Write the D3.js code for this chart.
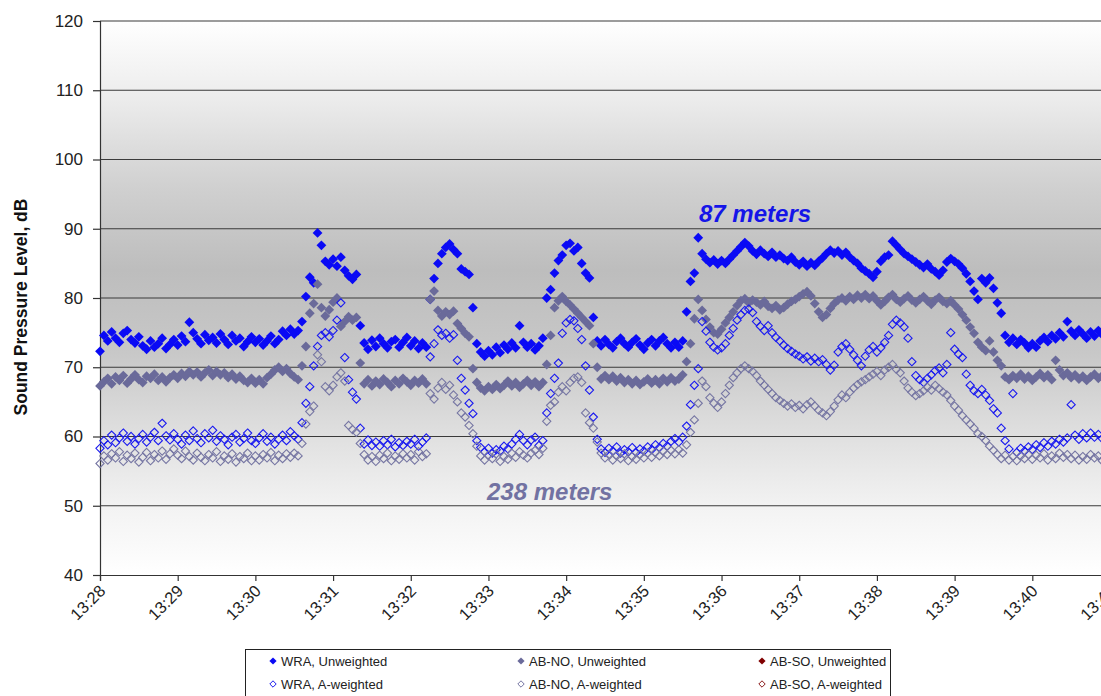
<!DOCTYPE html>
<html>
<head>
<meta charset="utf-8">
<script src="https://cdn.jsdelivr.net/npm/d3@7"></script>
<style>
  html, body { margin: 0; padding: 0; background: #fff; }
  svg { display: block; font-family: Arial, "Liberation Sans", sans-serif; }
</style>
</head>
<body>
<svg id="chart" width="1101" height="696"></svg>
<script>
// Sound pressure level samples, one every 3 seconds starting at 13:28:00
const sampleStepSec = 3;

const wraUnweighted = [
  72.3,74.6,73.8,75.1,74.2,73.6,74.9,75.3,74.0,73.5,74.4,73.1,72.6,73.8,72.9,73.4,74.2,72.7,73.3,74.0,
  73.2,74.5,73.7,76.5,75.0,74.1,73.4,74.7,73.9,74.3,73.5,74.8,74.0,73.3,74.6,73.8,74.2,73.0,73.7,74.4,
  73.6,74.1,73.2,73.8,74.5,73.4,74.0,75.2,74.6,75.5,74.8,75.3,76.6,80.2,83.0,82.2,89.4,87.6,85.3,84.8,
  85.6,84.6,85.9,84.0,83.2,82.7,83.4,76.0,73.5,72.6,73.9,73.0,74.2,73.4,72.8,73.7,74.0,72.9,73.6,74.3,
  73.1,73.8,72.7,73.5,72.9,79.8,82.8,85.0,86.4,87.3,87.8,87.0,86.4,84.2,83.8,83.4,78.6,73.4,72.2,71.6,
  72.4,71.8,72.9,72.1,73.2,72.6,73.5,72.8,76.0,73.6,72.9,73.4,72.5,73.1,74.2,80.0,81.2,83.6,85.4,86.2,
  87.6,87.9,86.8,87.3,85.0,83.6,82.9,77.2,73.8,73.1,74.0,73.3,72.8,73.7,74.2,73.4,72.9,73.6,74.1,73.2,
  72.6,73.5,74.0,73.1,73.8,74.3,73.4,72.8,73.6,72.9,73.8,78.0,82.4,83.6,88.7,86.4,85.6,85.1,85.5,84.9,
  85.4,85.0,85.6,86.2,86.8,87.4,88.0,87.5,86.8,86.3,86.9,86.4,86.0,86.6,85.9,86.2,85.7,85.4,85.9,85.2,
  84.8,85.3,84.6,85.1,84.7,85.3,85.8,86.4,86.9,86.5,86.8,86.2,86.6,85.9,85.4,85.0,84.3,83.9,83.5,83.0,
  83.8,85.3,85.9,86.2,88.2,87.6,87.0,86.4,86.0,85.6,85.2,84.8,84.4,84.9,84.2,83.8,83.3,84.0,85.2,85.7,
  85.3,84.9,84.3,83.5,82.4,81.0,79.8,82.8,82.2,82.9,81.4,79.3,77.8,74.6,73.6,74.2,73.3,74.0,73.5,72.8,
  73.4,72.9,73.8,74.3,73.7,74.6,74.1,75.0,74.4,76.6,75.2,74.6,75.4,74.8,74.2,75.1,74.5,75.3,74.7,75.0,
  74.6
];

const abnoUnweighted = [
  67.3,67.9,68.4,67.6,68.6,68.1,68.8,67.7,68.3,68.9,68.2,67.8,68.7,68.4,69.0,68.1,68.6,67.9,68.5,68.9,
  68.4,69.1,68.7,69.4,68.9,69.3,68.6,69.2,69.6,68.8,69.4,68.9,69.2,68.5,69.0,68.3,68.7,68.1,67.8,68.4,
  67.7,68.2,67.6,68.5,69.0,69.6,70.0,69.4,69.8,69.1,68.6,68.2,70.2,73.0,77.8,79.2,82.0,78.6,77.4,78.3,
  79.4,80.0,75.9,76.6,77.3,76.8,77.2,70.6,67.6,68.2,67.3,68.0,67.5,68.3,67.8,67.2,68.1,67.6,68.4,67.9,
  67.4,68.1,67.7,68.3,67.6,79.8,81.0,78.2,77.4,78.0,77.6,78.1,76.3,75.6,74.9,74.4,69.8,67.8,67.0,66.6,
  67.2,66.8,67.5,66.9,67.4,68.0,67.3,67.8,67.1,67.6,68.1,67.4,67.9,67.2,67.8,70.4,74.6,78.6,79.6,80.2,
  79.5,79.0,78.4,77.8,77.2,76.6,76.0,73.4,70.0,68.3,68.8,68.2,68.7,68.0,68.5,67.8,68.2,67.6,68.1,67.5,
  67.9,68.3,67.7,68.2,67.6,68.4,67.9,68.5,68.0,68.3,68.9,70.8,73.4,77.0,79.8,78.2,76.9,75.8,75.0,74.8,
  75.5,76.4,77.2,78.0,78.9,79.6,79.9,79.3,79.7,79.4,79.0,79.5,78.8,78.5,78.9,78.3,78.6,79.1,79.5,79.8,
  80.2,80.6,80.9,80.3,79.2,78.0,77.2,77.6,78.5,79.2,79.7,80.0,79.6,80.2,79.8,80.4,80.0,80.5,79.9,80.3,
  79.6,79.0,79.5,80.1,80.5,79.8,79.4,79.9,80.3,79.7,79.3,79.8,80.2,79.6,79.1,79.7,80.1,79.5,79.2,79.6,
  79.0,78.4,77.6,76.8,75.8,74.9,73.6,72.9,72.4,73.8,72.2,71.0,70.2,68.6,68.2,68.8,68.4,69.0,68.3,68.7,
  68.1,68.6,69.1,68.5,68.9,68.2,71.0,69.6,68.8,69.2,68.5,68.9,68.3,68.7,68.1,68.6,69.0,68.4,68.8,68.2,
  68.6
];

const absoUnweighted = [];

const wraAWeighted = [
  58.3,59.4,58.8,60.2,59.1,59.8,60.5,59.3,60.0,58.9,59.7,60.3,59.2,59.9,60.6,59.4,61.9,60.1,59.5,60.4,
  59.6,58.9,60.2,59.4,60.8,59.7,59.1,60.4,59.8,60.9,59.3,60.1,59.6,58.8,59.9,60.3,59.2,59.7,60.5,59.4,
  59.0,59.8,60.4,59.3,59.9,58.9,59.6,60.2,59.4,60.7,60.1,59.6,62.0,64.8,67.2,70.2,73.0,74.6,75.0,74.4,
  75.3,76.8,79.3,71.4,68.2,66.4,65.4,61.2,58.9,59.5,58.7,59.2,58.6,59.4,58.8,59.6,58.5,59.1,58.7,59.3,
  58.9,59.6,58.6,59.2,59.8,71.5,73.4,75.4,74.6,74.9,74.2,74.7,71.0,68.4,66.7,64.8,63.3,59.4,58.4,57.8,
  58.3,57.6,58.1,57.9,58.6,58.2,58.9,59.6,60.3,59.4,58.8,59.5,59.9,58.7,59.4,63.4,66.2,68.4,70.6,74.9,
  76.4,76.9,76.7,75.6,74.0,70.2,66.7,62.8,59.6,58.2,57.7,58.3,57.9,58.5,57.6,58.1,57.8,58.4,57.7,58.2,
  57.9,58.5,58.1,58.8,58.4,59.0,58.6,59.3,59.7,59.2,59.9,61.5,64.6,67.4,69.8,76.6,75.2,73.6,72.9,72.5,
  72.8,73.4,74.6,75.6,76.8,77.6,78.2,78.4,77.9,76.6,75.9,75.3,76.0,75.0,74.3,73.8,73.2,72.7,72.3,71.9,
  71.6,71.2,71.5,70.9,71.3,70.8,71.1,70.4,69.6,70.3,72.2,73.0,73.4,72.6,71.8,71.0,70.2,71.6,72.5,73.0,
  72.2,72.8,73.6,74.6,76.2,76.8,76.4,75.8,74.2,70.8,68.8,68.2,67.8,68.4,68.9,69.5,69.9,69.2,70.4,75.0,
  72.6,71.9,71.4,69.0,67.4,66.6,66.2,66.8,66.0,65.2,64.0,63.4,61.2,59.4,58.2,66.2,57.7,58.3,57.9,58.5,
  58.1,58.8,58.4,59.1,58.6,59.3,58.9,59.6,59.2,59.8,64.6,60.2,59.6,60.4,59.8,60.5,59.9,60.3,59.7,60.4,
  59.9
];

const abnoAWeighted = [
  56.1,57.2,56.6,57.5,56.9,57.8,56.4,57.3,56.8,57.6,56.3,57.0,57.7,56.5,57.4,56.9,57.9,56.7,57.5,58.2,
  57.3,56.8,57.9,57.1,56.6,57.6,57.0,56.5,57.4,56.9,57.8,56.4,57.2,56.7,57.5,56.3,57.1,56.8,57.6,56.5,
  57.2,56.6,57.4,56.9,57.7,56.5,57.3,56.8,57.5,57.0,57.6,57.2,59.0,61.8,63.6,64.4,71.8,70.8,67.2,66.6,
  67.4,68.6,69.2,68.0,61.6,61.0,60.6,59.0,57.4,56.6,57.1,56.4,57.3,56.8,57.6,56.5,57.2,56.7,57.5,56.9,
  57.4,56.6,57.8,57.1,57.5,66.2,65.4,67.0,67.8,66.8,67.4,66.0,65.0,63.4,62.8,61.6,60.4,58.6,57.2,56.6,
  57.3,56.8,57.5,56.4,57.1,56.7,57.6,57.0,57.8,57.3,56.9,57.6,58.0,57.4,58.3,62.2,64.5,65.0,66.4,67.2,
  66.6,67.8,68.4,68.6,67.8,63.4,62.0,61.2,59.2,57.6,56.9,57.4,56.6,57.2,56.8,57.5,56.5,57.1,56.7,57.4,
  56.9,57.6,57.0,57.7,57.2,57.9,57.4,58.0,57.5,58.1,57.6,58.8,60.6,62.4,64.8,68.0,67.2,65.6,64.8,64.2,
  65.0,66.2,67.4,68.5,69.2,69.8,70.2,69.8,69.4,68.8,68.0,67.4,66.8,66.2,65.6,65.2,64.8,64.4,64.7,64.2,
  64.5,64.0,64.6,65.0,64.4,63.8,63.4,63.0,63.6,64.4,65.3,66.0,65.6,66.4,67.0,67.5,67.9,68.2,68.6,69.0,
  69.4,68.8,69.6,70.0,70.4,69.7,69.2,68.0,67.0,66.4,65.9,66.2,66.6,67.1,66.7,67.4,66.9,66.4,66.0,65.2,
  64.4,63.8,63.0,62.4,61.8,61.2,60.4,60.0,59.4,58.6,58.0,57.4,56.8,57.3,56.6,57.1,56.5,57.2,56.8,57.4,
  56.7,57.3,56.9,57.5,56.6,57.2,56.8,57.6,57.0,57.4,56.8,57.3,56.6,57.1,56.7,57.4,56.9,57.2,56.5,57.0,
  57.1
];

const absoAWeighted = [];

const yTickValues = [40, 50, 60, 70, 80, 90, 100, 110, 120];
const xTickLabels = ["13:28","13:29","13:30","13:31","13:32","13:33","13:34",
                     "13:35","13:36","13:37","13:38","13:39","13:40","13:41"];

const seriesList = [
  { name: "WRA, Unweighted",   values: wraUnweighted,  color: "#0a0af5", filled: true  },
  { name: "AB-NO, Unweighted", values: abnoUnweighted, color: "#6a6a9a", filled: true  },
  { name: "AB-SO, Unweighted", values: absoUnweighted, color: "#800000", filled: true  },
  { name: "WRA, A-weighted",   values: wraAWeighted,   color: "#1a1af0", filled: false },
  { name: "AB-NO, A-weighted", values: abnoAWeighted,  color: "#7676a3", filled: false },
  { name: "AB-SO, A-weighted", values: absoAWeighted,  color: "#8b1a1a", filled: false }
];

const svg = d3.select("#chart");
const plot = { left: 100, right: 1110, top: 21, bottom: 575 };

const x = d3.scaleLinear().domain([0, 13 * 60]).range([plot.left, plot.right]);
const y = d3.scaleLinear().domain([40, 120]).range([plot.bottom, plot.top]);

// Plot-area shading: light at the top and bottom, darker grey through the middle
const defs = svg.append("defs");
const grad = defs.append("linearGradient")
  .attr("id", "plotShade").attr("x1", 0).attr("y1", 0).attr("x2", 0).attr("y2", 1);
[[0, "#ffffff"], [0.14, "#ececec"], [0.3, "#d0d0d0"], [0.45, "#bdbdbd"],
 [0.6, "#c8c8c8"], [0.75, "#e0e0e0"], [0.88, "#f3f3f3"], [1, "#ffffff"]]
  .forEach(([o, c]) => grad.append("stop").attr("offset", o).attr("stop-color", c));

svg.append("rect")
  .attr("x", plot.left).attr("y", plot.top)
  .attr("width", plot.right - plot.left).attr("height", plot.bottom - plot.top)
  .attr("fill", "url(#plotShade)");

// Horizontal gridlines
svg.append("g").selectAll("line")
  .data(yTickValues.filter(v => v > 40))
  .join("line")
  .attr("x1", plot.left).attr("x2", plot.right)
  .attr("y1", d => y(d)).attr("y2", d => y(d))
  .attr("stroke", "#3a3a3a").attr("stroke-width", 1.2);

// Y axis
const yAxis = svg.append("g")
  .attr("transform", `translate(${plot.left},0)`)
  .call(d3.axisLeft(y).tickValues(yTickValues).tickSize(7).tickPadding(10).tickFormat(d3.format("d")));
yAxis.select(".domain").attr("stroke", "#333").attr("stroke-width", 1.2);
yAxis.selectAll(".tick line").attr("stroke", "#333").attr("stroke-width", 1.2);
yAxis.selectAll(".tick text")
  .attr("font-size", 17).attr("fill", "#222")
  .attr("font-family", "Arial, 'Liberation Sans', sans-serif");

// X axis (time of day)
const xAxis = svg.append("g")
  .attr("transform", `translate(0,${plot.bottom})`)
  .call(d3.axisBottom(x)
    .tickValues(xTickLabels.map((_, i) => i * 60))
    .tickSize(6)
    .tickFormat((d, i) => xTickLabels[i]));
xAxis.select(".domain").attr("stroke", "#333").attr("stroke-width", 1.2);
xAxis.selectAll(".tick line").attr("stroke", "#333").attr("stroke-width", 1.2);
xAxis.selectAll(".tick text")
  .attr("font-size", 16.5).attr("fill", "#222")
  .attr("font-family", "Arial, 'Liberation Sans', sans-serif")
  .attr("text-anchor", "end")
  .attr("dy", null).attr("y", null)
  .attr("transform", "translate(6,17) rotate(-45)");

// Y axis title
svg.append("text")
  .attr("transform", `translate(27,307) rotate(-90)`)
  .attr("text-anchor", "middle")
  .attr("font-size", 17.5).attr("font-weight", "bold").attr("fill", "#111")
  .text("Sound Pressure Level, dB");

// Diamond markers
const diamond = r => `M0,${-r}L${r},0L0,${r}L${-r},0Z`;

const markers = svg.append("g");
seriesList.forEach(s => {
  markers.append("g").selectAll("path")
    .data(s.values)
    .join("path")
    .attr("d", s.filled ? diamond(4.9) : diamond(4.1))
    .attr("transform", (v, i) => `translate(${x(i * sampleStepSec)},${y(v)})`)
    .attr("fill", s.filled ? s.color : "none")
    .attr("stroke", s.filled ? "none" : s.color)
    .attr("stroke-width", 1.1);
});

// Distance annotations
svg.append("text")
  .attr("x", 699).attr("y", 222)
  .attr("font-size", 24).attr("font-weight", "bold").attr("font-style", "italic")
  .attr("fill", "#1515e8")
  .text("87 meters");

svg.append("text")
  .attr("x", 487).attr("y", 500)
  .attr("font-size", 24).attr("font-weight", "bold").attr("font-style", "italic")
  .attr("fill", "#7272a2")
  .text("238 meters");

// Legend
const legend = svg.append("g");
legend.append("rect")
  .attr("x", 245.5).attr("y", 649.5).attr("width", 645).attr("height", 60)
  .attr("fill", "#fff").attr("stroke", "#222").attr("stroke-width", 1);

const legendCols = [273, 521, 762];
const legendRows = [661, 684];
seriesList.forEach((s, i) => {
  const cx = legendCols[i % 3], cy = legendRows[Math.floor(i / 3)];
  legend.append("path")
    .attr("d", s.filled ? diamond(3.6) : diamond(3.2))
    .attr("transform", `translate(${cx},${cy})`)
    .attr("fill", s.filled ? s.color : "none")
    .attr("stroke", s.filled ? "none" : s.color)
    .attr("stroke-width", 1);
  legend.append("text")
    .attr("x", cx + 8).attr("y", cy + 4.5)
    .attr("font-size", 13).attr("fill", "#222")
    .text(s.name);
});
</script>
</body>
</html>
